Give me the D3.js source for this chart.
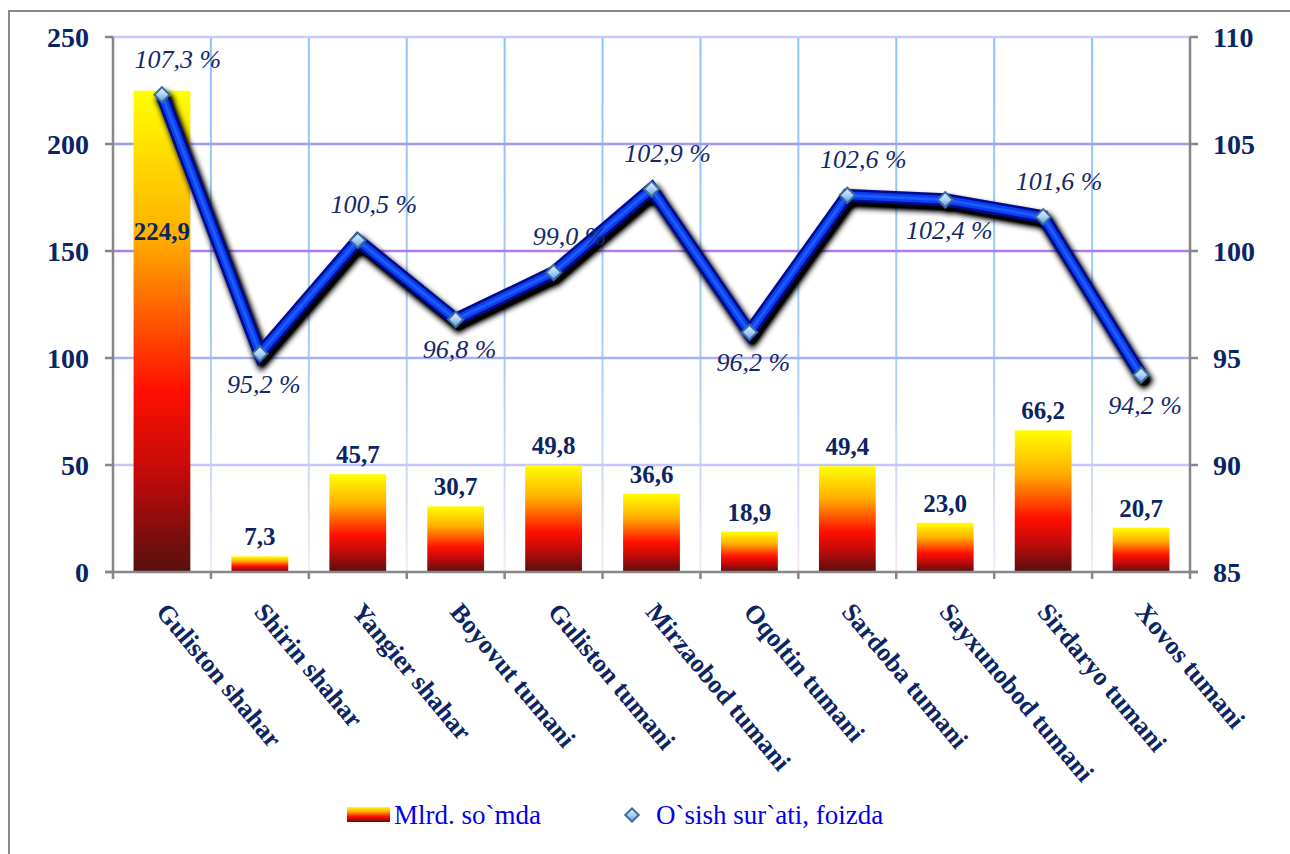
<!DOCTYPE html>
<html><head><meta charset="utf-8">
<script src="https://cdn.jsdelivr.net/npm/d3@7/dist/d3.min.js"></script>
<style>html,body{margin:0;padding:0;background:#fff;} svg{display:block;}</style>
</head><body>
<svg id="chart" width="1290" height="854"></svg>
<script>
const categories = ["Guliston shahar","Shirin shahar","Yangier shahar","Boyovut tumani","Guliston tumani","Mirzaobod tumani","Oqoltin tumani","Sardoba tumani","Sayxunobod tumani","Sirdaryo tumani","Xovos tumani"];
const volumes = [224.9, 7.3, 45.7, 30.7, 49.8, 36.6, 18.9, 49.4, 23.0, 66.2, 20.7];
const growth = [107.3, 95.2, 100.5, 96.8, 99.0, 102.9, 96.2, 102.6, 102.4, 101.6, 94.2];
const leftTicks = [0, 50, 100, 150, 200, 250];
const rightTicks = [85, 90, 95, 100, 105, 110];
const seriesNames = ["Mlrd. so`mda", "O`sish sur`ati, foizda"];
const growthLabelSide = ["above","below","above","below","above","above","below","above","below","above","below"];

const fmt = v => v.toFixed(1).replace(".", ",");
const svg = d3.select("#chart");
const m = {left: 113, right: 1190, top: 37, bottom: 572};
const navy = "#0b2463";
const serif = "Liberation Serif, Times New Roman, serif";

const x = d3.scaleBand().domain(categories).range([m.left, m.right]).paddingInner(0.42).paddingOuter(0.21);
const xb = d3.scaleBand().domain(categories).range([m.left, m.right]);
const yL = d3.scaleLinear().domain([0, 250]).range([m.bottom, m.top]);
const yR = d3.scaleLinear().domain([85, 110]).range([m.bottom, m.top]);

const defs = svg.append("defs");
const bg = defs.append("linearGradient").attr("id","barGrad").attr("x1",0).attr("y1",0).attr("x2",0).attr("y2",1);
[[0,"#ffff00"],[0.3,"#ffb000"],[0.62,"#ff1000"],[0.8,"#c00a0a"],[1,"#55100f"]].forEach(s=>bg.append("stop").attr("offset",s[0]).attr("stop-color",s[1]));
const vg = defs.append("linearGradient").attr("id","vgrid").attr("gradientUnits","userSpaceOnUse").attr("x1",0).attr("y1",m.top).attr("x2",0).attr("y2",m.bottom);
[[0,"#8ec2fa"],[0.6,"#a8cdf5"],[0.85,"#d8dcf0"],[1,"#fbe6f8"]].forEach(s=>vg.append("stop").attr("offset",s[0]).attr("stop-color",s[1]));
const mg = defs.append("linearGradient").attr("id","mkGrad").attr("x1",0).attr("y1",0).attr("x2",1).attr("y2",1);
[[0,"#e6f3ff"],[0.5,"#a9d0f8"],[1,"#5a96dc"]].forEach(s=>mg.append("stop").attr("offset",s[0]).attr("stop-color",s[1]));
const f = defs.append("filter").attr("id","shadow").attr("x","-20%").attr("y","-20%").attr("width","140%").attr("height","140%");
f.append("feGaussianBlur").attr("in","SourceAlpha").attr("stdDeviation",3).attr("result","b");
f.append("feOffset").attr("in","b").attr("dx",3).attr("dy",5).attr("result","o");
f.append("feComponentTransfer").attr("in","o").attr("result","o2").append("feFuncA").attr("type","linear").attr("slope",1.5);
const fm = f.append("feMerge"); fm.append("feMergeNode").attr("in","o2"); fm.append("feMergeNode").attr("in","SourceGraphic");

// outer border
svg.append("rect").attr("x",9).attr("y",11).attr("width",1300).attr("height",860).attr("fill","none").attr("stroke","#8a8a8a").attr("stroke-width",2);

// vertical gridlines
const g = svg.append("g");
categories.forEach((c,i)=>{ if(i>0){ g.append("line").attr("x1",xb(c)).attr("x2",xb(c)).attr("y1",m.top).attr("y2",m.bottom).attr("stroke","url(#vgrid)").attr("stroke-width",2);} });
// horizontal gridlines
const hColors = {50:"#c6c6f8",100:"#a7b3f6",150:"#b07cf0",200:"#9c9cf0",250:"#c8c8fa"};
leftTicks.filter(t=>t>0).forEach(t=>{
  g.append("line").attr("x1",m.left).attr("x2",m.right).attr("y1",yL(t)).attr("y2",yL(t)).attr("stroke",hColors[t]).attr("stroke-width",2.5);
});

// bars
svg.append("g").selectAll("rect").data(volumes).join("rect")
  .attr("x",(d,i)=>x(categories[i])).attr("width",x.bandwidth())
  .attr("y",d=>yL(d)).attr("height",d=>yL(0)-yL(d)).attr("fill","url(#barGrad)");

// axes
const axG = svg.append("g").attr("stroke","#878787").attr("stroke-width",2.5);
axG.append("line").attr("x1",m.left).attr("x2",m.left).attr("y1",m.top).attr("y2",m.bottom+7);
axG.append("line").attr("x1",m.right).attr("x2",m.right).attr("y1",m.top).attr("y2",m.bottom+7);
axG.append("line").attr("x1",m.left-8).attr("x2",m.right+8).attr("y1",m.bottom).attr("y2",m.bottom);
leftTicks.forEach(t=>axG.append("line").attr("x1",m.left-8).attr("x2",m.left).attr("y1",yL(t)).attr("y2",yL(t)));
rightTicks.forEach(t=>axG.append("line").attr("x1",m.right).attr("x2",m.right+8).attr("y1",yR(t)).attr("y2",yR(t)));
categories.forEach((c,i)=>{ if(i>0) axG.append("line").attr("x1",xb(c)).attr("x2",xb(c)).attr("y1",m.bottom).attr("y2",m.bottom+7); });

svg.append("g").selectAll("text").data(leftTicks).join("text")
  .attr("x",89).attr("y",d=>yL(d)).attr("dy","0.35em").attr("text-anchor","end")
  .attr("font-family",serif).attr("font-weight","bold").attr("font-size",28).attr("fill",navy).text(d=>d);
svg.append("g").selectAll("text").data(rightTicks).join("text")
  .attr("x",1213).attr("y",d=>yR(d)).attr("dy","0.35em").attr("text-anchor","start")
  .attr("font-family",serif).attr("font-weight","bold").attr("font-size",28).attr("fill",navy).text(d=>d);

// category labels
svg.append("g").selectAll("text").data(categories).join("text")
  .attr("transform",(d)=>`translate(${xb(d)+xb.bandwidth()/2+8},${600}) rotate(50)`)
  .attr("dy","0.75em")
  .attr("font-family",serif).attr("font-weight","bold").attr("font-size",26).attr("fill",navy).text(d=>d);

// bar value labels
svg.append("g").selectAll("text").data(volumes).join("text")
  .attr("x",(d,i)=>x(categories[i])+x.bandwidth()/2)
  .attr("y",(d)=> d>200 ? yL(d)+149 : yL(d)-11)
  .attr("text-anchor","middle")
  .attr("font-family",serif).attr("font-weight","bold").attr("font-size",25).attr("fill",navy).text(d=>fmt(d));

// line
const cx = i => xb(categories[i]) + xb.bandwidth()/2;
const line = d3.line().x((d,i)=>cx(i)).y(d=>yR(d));
const lg = svg.append("g").attr("filter","url(#shadow)");
lg.append("path").attr("d",line(growth)).attr("fill","none").attr("stroke","#000a8a").attr("stroke-width",13).attr("stroke-linejoin","miter");
lg.append("path").attr("d",line(growth)).attr("fill","none").attr("stroke","#0a3cf2").attr("stroke-width",8).attr("stroke-linejoin","miter");
lg.append("path").attr("d",line(growth)).attr("fill","none").attr("stroke","#1a5cff").attr("stroke-width",3).attr("stroke-linejoin","miter");
const mk = d3.symbol().type(d3.symbolSquare).size(115);
lg.selectAll("path.mk").data(growth).join("path").attr("class","mk")
  .attr("d",mk).attr("transform",(d,i)=>`translate(${cx(i)},${yR(d)}) rotate(45)`)
  .attr("fill","url(#mkGrad)").attr("stroke","#3d6c9b").attr("stroke-width",2);

// growth labels
svg.append("g").selectAll("text").data(growth).join("text")
  .attr("x",(d,i)=>cx(i) + (growthLabelSide[i]==="above" ? 16 : 4))
  .attr("y",(d,i)=> growthLabelSide[i]==="above" ? yR(d)-27 : yR(d)+39)
  .attr("text-anchor","middle")
  .attr("font-family",serif).attr("font-style","italic").attr("font-size",26).attr("fill","#13286b")
  .text(d=>fmt(d)+" %");

// legend
const lgd = svg.append("g");
lgd.append("rect").attr("x",347).attr("y",807).attr("width",43).attr("height",15).attr("fill","url(#barGrad)");
lgd.append("text").attr("x",394).attr("y",815).attr("dy","0.35em").attr("font-family",serif).attr("font-size",27).attr("fill","#0000f0").text(seriesNames[0]);
lgd.append("path").attr("d",d3.symbol().type(d3.symbolSquare).size(90)).attr("transform","translate(632,815) rotate(45)")
  .attr("fill","url(#mkGrad)").attr("stroke","#3d6c9b").attr("stroke-width",2);
lgd.append("text").attr("x",656).attr("y",815).attr("dy","0.35em").attr("font-family",serif).attr("font-size",27).attr("fill","#0000f0").text(seriesNames[1]);
</script>
</body></html>
